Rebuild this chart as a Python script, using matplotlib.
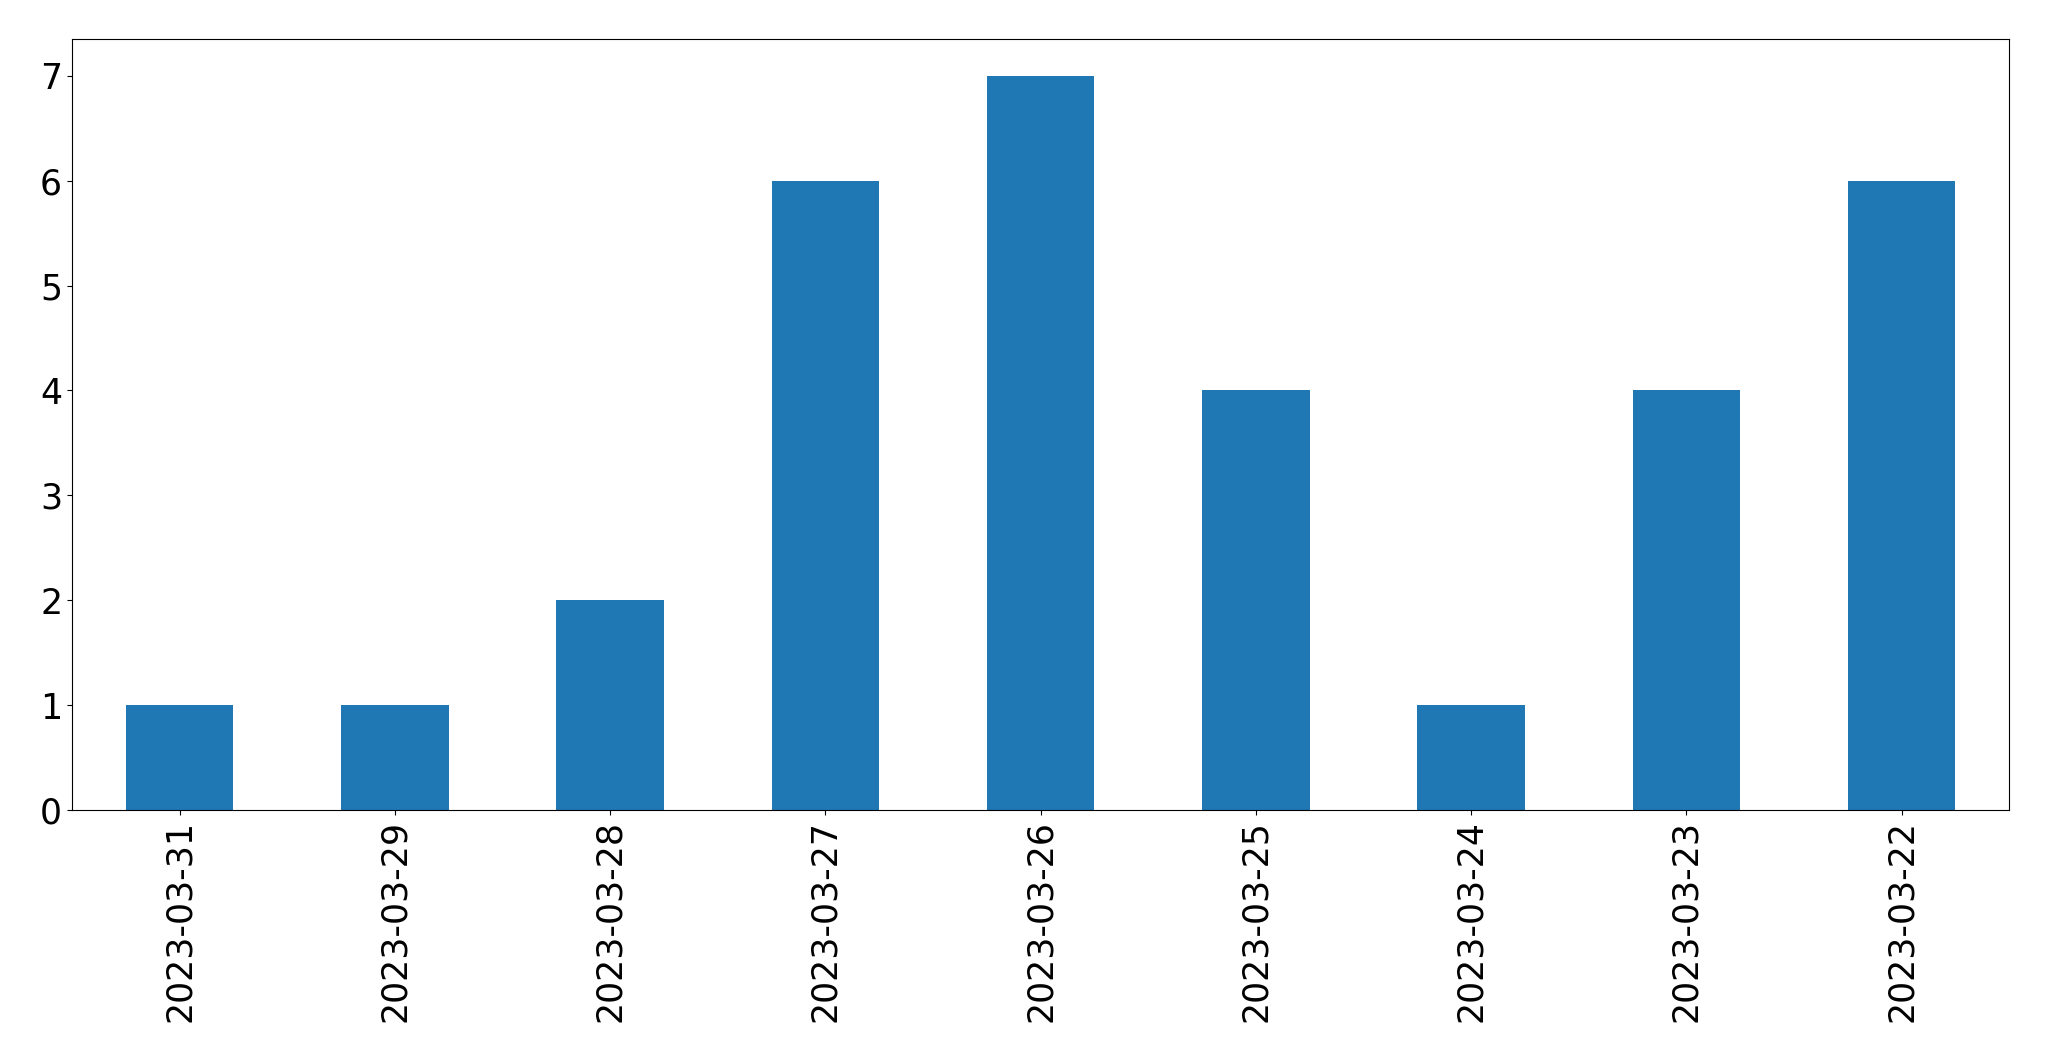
import matplotlib
matplotlib.use("Agg")
import matplotlib.pyplot as plt

dates = ["2023-03-31", "2023-03-29", "2023-03-28", "2023-03-27", "2023-03-26",
         "2023-03-25", "2023-03-24", "2023-03-23", "2023-03-22"]
counts = [1, 1, 2, 6, 7, 4, 1, 4, 6]

fig = plt.figure(figsize=(20.49, 10.61), dpi=100)
ax = fig.add_axes([0.0351, 0.2366, 0.9455, 0.7266])
x = list(range(len(dates)))
ax.bar(x, counts, width=0.5, color="#1f77b4")
ax.set_xlim(-0.5, len(dates) - 0.5)
ax.set_ylim(0, max(counts) * 1.05)
ax.set_xticks(x)
ax.set_xticklabels(dates, rotation=90, fontsize=25)
ax.tick_params(axis="y", labelsize=25)
fig.savefig("out.png", dpi=100)
